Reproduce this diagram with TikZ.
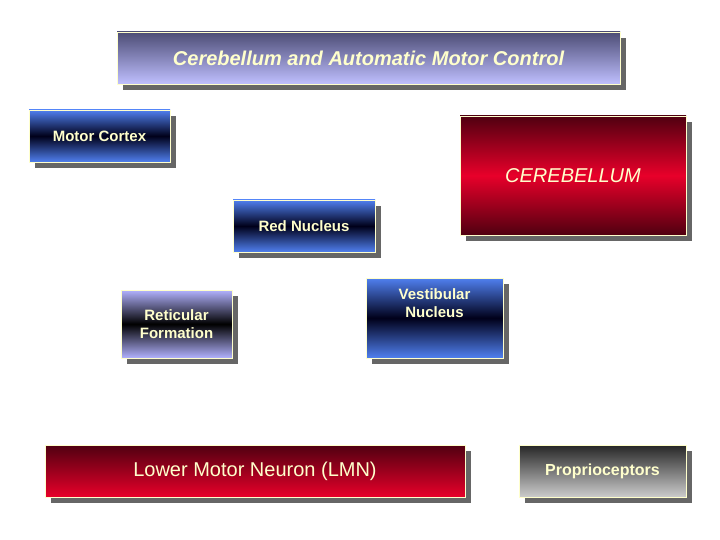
\documentclass[tikz,border=0pt]{standalone}
\usepackage{fontspec}
\setmainfont{Liberation Sans}
\usetikzlibrary{shadows}
\definecolor{cream}{HTML}{FFFFCC}
\definecolor{bluebox}{HTML}{5080F0}
\definecolor{redbox}{HTML}{E8002A}
\definecolor{darkred}{HTML}{500010}
\tikzset{
  box/.style={draw=cream, line width=0.8pt, text=cream, font=\bfseries\fontsize{15}{18}\selectfont, align=center, inner sep=0pt,
    drop shadow={shadow xshift=6pt, shadow yshift=-6pt, fill=black!60, opacity=1}},
  bluegrad/.style={top color=bluebox, bottom color=bluebox, middle color=black!90!blue},
  lightgrad/.style={top color=blue!30!white, bottom color=blue!30!white, middle color=black},
  redmid/.style={top color=darkred, bottom color=darkred, middle color=redbox},
  redlow/.style={top color=darkred, bottom color=redbox},
  graygrad/.style={top color=black!85, bottom color=black!20},
  titlegrad/.style={top color=black!60!blue!40!gray, bottom color=blue!25!white},
}
\begin{document}
\begin{tikzpicture}[x=1pt,y=-1pt]
\useasboundingbox[fill=white] (0,0) rectangle (720,540);
\node[box, titlegrad, minimum width=503pt, minimum height=52pt, font=\bfseries\itshape\fontsize{20}{24}\selectfont] (title) at (368.5,58) {Cerebellum and Automatic Motor Control};
\node[box, bluegrad, minimum width=141pt, minimum height=52pt] (mc) at (99.5,136) {Motor Cortex};
\node[box, redmid, minimum width=226pt, minimum height=119pt, font=\itshape\fontsize{20}{24}\selectfont] (cb) at (573,175.5) {CEREBELLUM};
\node[box, bluegrad, minimum width=142pt, minimum height=52pt] (rn) at (304,226) {Red Nucleus};
\node[box, lightgrad, minimum width=111pt, minimum height=68pt] (rf) at (176.5,324) {Reticular\\Formation};
\node[box, bluegrad, minimum width=137pt, minimum height=80pt] (vn) at (434.5,318) {Vestibular\\Nucleus\\[12pt]};
\node[box, redlow, minimum width=420pt, minimum height=52pt, font=\fontsize{20}{24}\selectfont] (lmn) at (255,471) {Lower Motor Neuron (LMN)};
\node[box, graygrad, minimum width=167pt, minimum height=52pt, font=\bfseries\fontsize{16}{19}\selectfont] (pp) at (602.5,471) {Proprioceptors};
\end{tikzpicture}
\end{document}
